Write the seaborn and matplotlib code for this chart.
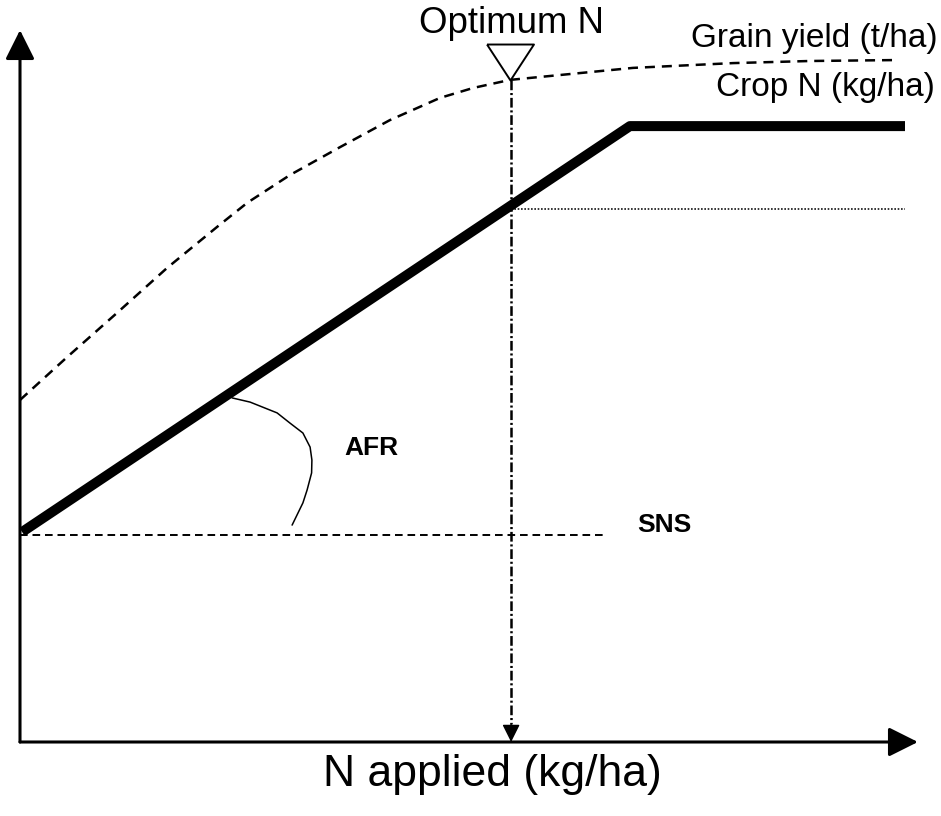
import matplotlib
matplotlib.use("Agg")
import matplotlib.pyplot as plt
import seaborn as sns

# schematic units: x = N applied (kg/ha), y = response (arbitrary)
crop_x = [0.7, 203.3, 295.0]
crop_y = [70.0, 205.3, 205.3]

yield_x = [0, 15.7, 32.3, 49, 65.7, 75.7, 90, 106.7, 123.3, 140, 151, 163.3, 204.3, 237.7, 263.3, 291]
yield_y = [114, 128.3, 143, 158, 171.7, 179.7, 189, 198.3, 207.3, 214.7, 218, 220.7, 224.7, 226.3, 227, 227.3]

sns_x = [0, 195.7]
sns_y = [69.0, 69.0]

opt_n = 163.7
opt_yield = 220.7
opt_crop_n = 177.7
dotted_x = [opt_n, 295.0]

afr_x = [70.7, 76.7, 85.7, 90.0, 94.3, 96.7, 97.3, 97.2, 95.7, 94.3, 90.7]
afr_y = [114.7, 113.3, 109.7, 106.3, 103.0, 98.3, 94.0, 89.7, 84.0, 79.7, 72.3]

x_axis_end = 299.3
y_axis_end = 237.3

sns.set_style("white")
plt.rcParams["font.family"] = ["Liberation Sans", "DejaVu Sans"]
plt.rcParams["text.color"] = "black"
plt.rcParams["lines.scale_dashes"] = False

fig = plt.figure(figsize=(9.41, 8.16), dpi=100)
ax = fig.add_axes([0, 0, 1, 1])
ax.set_xlim(-20 / 3, 921 / 3)
ax.set_ylim(-74 / 3, 742 / 3)
ax.axis("off")

# axes with arrows
arrow = dict(arrowstyle="-|>,head_length=0.4,head_width=0.2", mutation_scale=45,
             lw=2.2, color="black", shrinkA=0, shrinkB=0)
ax.annotate("", xy=(0, y_axis_end), xytext=(0, 0), arrowprops=arrow)
ax.annotate("", xy=(x_axis_end, 0), xytext=(0, 0), arrowprops=arrow)

# grain yield response (dashed curve)
sns.lineplot(x=yield_x, y=yield_y, ax=ax, color="black", lw=1.8, sort=False, estimator=None)
ax.lines[-1].set_dashes([7.2, 5])

# soil N supply
sns.lineplot(x=sns_x, y=sns_y, ax=ax, color="black", lw=1.4, sort=False, estimator=None)
ax.lines[-1].set_dashes([5.5, 3.5])

# crop N uptake
sns.lineplot(x=crop_x, y=crop_y, ax=ax, color="black", lw=7.2, sort=False, estimator=None,
             solid_capstyle="butt")

# crop N at optimum (dotted)
sns.lineplot(x=dotted_x, y=[opt_crop_n, opt_crop_n], ax=ax, color="black", lw=1.1,
             sort=False, estimator=None)
ax.lines[-1].set_dashes([1.2, 1.2])

# optimum N drop line
sns.lineplot(x=[opt_n, opt_n], y=[opt_yield, 6], ax=ax, color="black", lw=1.8,
             sort=False, estimator=None)
ax.lines[-1].set_dashes([7, 2, 1.5, 2])
ax.annotate("", xy=(opt_n, 0), xytext=(opt_n, 6),
            arrowprops=dict(arrowstyle="-|>,head_length=0.4,head_width=0.2",
                            mutation_scale=27, lw=1, color="black", shrinkA=0, shrinkB=0))

# optimum marker
tri = [(-23.5, 18), (23.5, 18), (0, -18), (-23.5, 18)]
ax.plot([opt_n - 0.3], [226.7], marker=tri, ms=33.8, mfc="white", mec="black", mew=1.4,
        linestyle="none")

# apparent fertiliser recovery angle
sns.lineplot(x=afr_x, y=afr_y, ax=ax, color="black", lw=1.1, sort=False, estimator=None)

narrow = ["Liberation Sans Narrow", "Liberation Sans"]
ax.text(opt_n, 236.3, "Optimum N", ha="center", va="baseline", fontsize=26.4)
ax.text(306, 231.7, "Grain yield (t/ha)", ha="right", va="baseline", fontsize=24)
ax.text(305, 215.3, "Crop N (kg/ha)", ha="right", va="baseline", fontsize=24)
ax.text(117, 95.7, "AFR", ha="center", va="baseline", fontsize=19, fontweight="bold",
        family=narrow)
ax.text(214.7, 70, "SNS", ha="center", va="baseline", fontsize=19, fontweight="bold",
        family=narrow)
ax.text(157.3, -14.7, "N applied (kg/ha)", ha="center", va="baseline", fontsize=32)

fig.savefig("out.png", dpi=100)
